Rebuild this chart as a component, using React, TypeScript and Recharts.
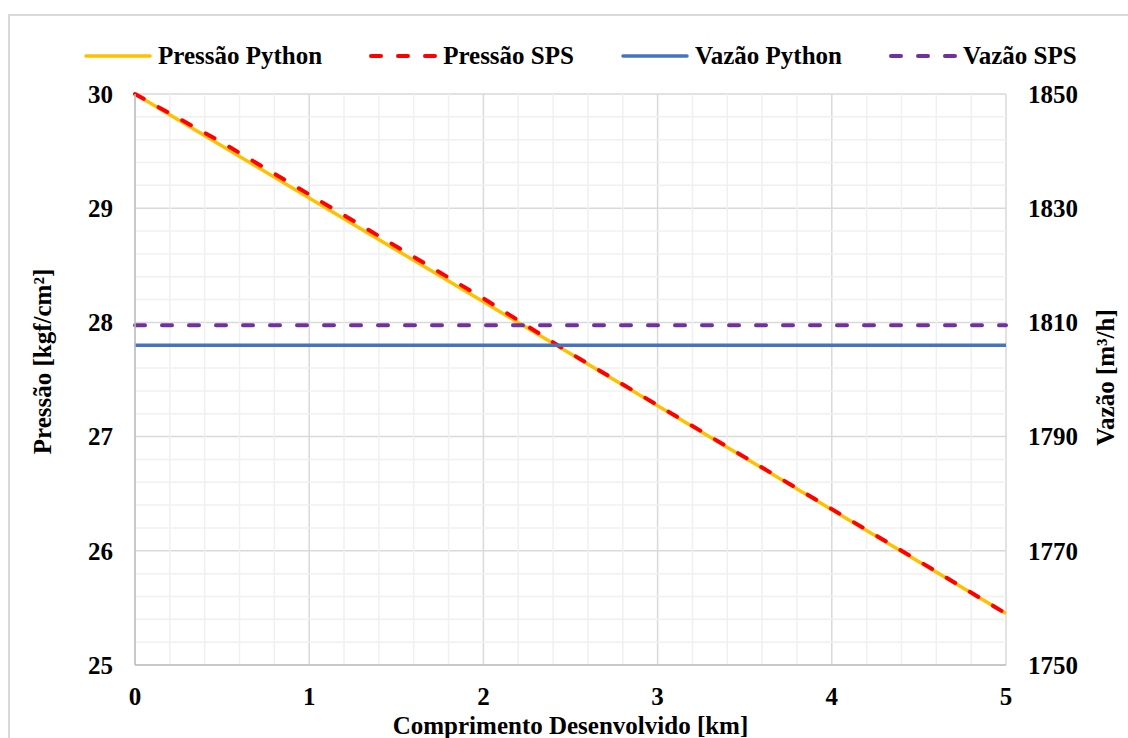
import {
  CartesianGrid,
  ComposedChart,
  Label,
  Line,
  ReferenceLine,
  XAxis,
  YAxis,
} from "recharts";

const distanceKm = [0, 0.5, 1, 1.5, 2, 2.5, 3, 3.5, 4, 4.5, 5];
const pressurePython = [30, 29.545, 29.09, 28.635, 28.18, 27.725, 27.27, 26.815, 26.36, 25.905, 25.45];
const pressureSps = [30, 29.575, 29.12, 28.665, 28.21, 27.73, 27.275, 26.82, 26.365, 25.91, 25.45];
const flowPython = [1806, 1806, 1806, 1806, 1806, 1806, 1806, 1806, 1806, 1806, 1806];
const flowSps = [1809.5, 1809.5, 1809.5, 1809.5, 1809.5, 1809.5, 1809.5, 1809.5, 1809.5, 1809.5, 1809.5];

const xTicks = [0, 1, 2, 3, 4, 5];
const pressureTicks = [25, 26, 27, 28, 29, 30];
const flowTicks = [1750, 1770, 1790, 1810, 1830, 1850];
const xMinorTicks = [0.2, 0.4, 0.6, 0.8, 1.2, 1.4, 1.6, 1.8, 2.2, 2.4, 2.6, 2.8, 3.2, 3.4, 3.6, 3.8, 4.2, 4.4, 4.6, 4.8];
const yMinorTicks = [25.2, 25.4, 25.6, 25.8, 26.2, 26.4, 26.6, 26.8, 27.2, 27.4, 27.6, 27.8, 28.2, 28.4, 28.6, 28.8, 29.2, 29.4, 29.6, 29.8];

const seriesNames = ["Pressão Python", "Pressão SPS", "Vazão Python", "Vazão SPS"];
const seriesColors = ["#FFC000", "#FF0000", "#4472C4", "#7030A0"];
const seriesDashed = [false, true, false, true];

const data = distanceKm.map((x, i) => ({
  x,
  pPython: pressurePython[i],
  pSps: pressureSps[i],
  qPython: flowPython[i],
  qSps: flowSps[i],
}));

const FONT = '"Liberation Serif", "Times New Roman", serif';
const tickStyle = { fontFamily: FONT, fontSize: 25, fontWeight: 700, fill: "#000" };

function ChartLegend() {
  return (
    <div
      style={{
        position: "absolute",
        left: 84,
        top: 42,
        display: "flex",
        alignItems: "center",
        gap: 47,
        fontFamily: FONT,
        fontSize: 25,
        fontWeight: 700,
        color: "#000",
        whiteSpace: "nowrap",
      }}
    >
      {seriesNames.map((name, i) => (
        <div key={name} style={{ display: "flex", alignItems: "center", gap: 6 }}>
          <svg width={68} height={10}>
            <line
              x1={2}
              y1={5}
              x2={66}
              y2={5}
              stroke={seriesColors[i]}
              strokeWidth={seriesDashed[i] ? 4 : 3.5}
              strokeDasharray={seriesDashed[i] ? "10 17" : undefined}
              strokeLinecap="round"
            />
          </svg>
          <span>{name}</span>
        </div>
      ))}
    </div>
  );
}

export default function App() {
  return (
    <div
      style={{
        position: "fixed",
        left: 0,
        top: 0,
        width: 1128,
        height: 738,
        overflow: "hidden",
        background: "#fff",
      }}
    >
      <div
        style={{
          position: "absolute",
          left: 8,
          top: 14,
          width: 1300,
          height: 900,
          border: "2px solid #d9d9d9",
        }}
      />
      <ComposedChart
        width={1128}
        height={738}
        data={data}
        margin={{ top: 94, right: 0, bottom: 0, left: 0 }}
        style={{ position: "absolute", left: 0, top: 0 }}
      >
        {xMinorTicks.map((v) => (
          <ReferenceLine key={`xm${v}`} x={v} yAxisId="p" stroke="#f0f0f0" strokeWidth={1.5} />
        ))}
        {yMinorTicks.map((v) => (
          <ReferenceLine key={`ym${v}`} y={v} yAxisId="p" stroke="#f0f0f0" strokeWidth={1.5} />
        ))}
        <CartesianGrid yAxisId="p" stroke="#d9d9d9" strokeWidth={1.5} />
        <XAxis
          dataKey="x"
          type="number"
          domain={[0, 5]}
          ticks={xTicks}
          height={73}
          tickLine={false}
          tickSize={0}
          tickMargin={22}
          axisLine={{ stroke: "#bfbfbf", strokeWidth: 1.5 }}
          tick={tickStyle}
        >
          <Label
            content={({ viewBox }: any) => (
              <text
                x={viewBox.x + viewBox.width / 2}
                y={viewBox.y + 69}
                textAnchor="middle"
                style={tickStyle}
              >
                Comprimento Desenvolvido [km]
              </text>
            )}
          />
        </XAxis>
        <YAxis
          yAxisId="p"
          orientation="left"
          domain={[25, 30]}
          ticks={pressureTicks}
          width={135}
          tickLine={false}
          tickSize={0}
          tickMargin={22}
          axisLine={{ stroke: "#bfbfbf", strokeWidth: 1.5 }}
          tick={tickStyle}
        >
          <Label
            content={({ viewBox }: any) => {
              const cx = viewBox.x + 42;
              const cy = viewBox.y + viewBox.height / 2 - 18;
              return (
                <text
                  x={cx}
                  y={cy}
                  textAnchor="middle"
                  dominantBaseline="central"
                  transform={`rotate(-90, ${cx}, ${cy})`}
                  style={tickStyle}
                >
                  Pressão [kgf/cm²]
                </text>
              );
            }}
          />
        </YAxis>
        <YAxis
          yAxisId="q"
          orientation="right"
          domain={[1750, 1850]}
          ticks={flowTicks}
          width={122}
          tickLine={false}
          tickSize={0}
          tickMargin={22}
          axisLine={false}
          tick={{ ...tickStyle, textAnchor: "start" }}
        >
          <Label
            content={({ viewBox }: any) => {
              const cx = viewBox.x + 99;
              const cy = viewBox.y + viewBox.height / 2 - 2;
              return (
                <text
                  x={cx}
                  y={cy}
                  textAnchor="middle"
                  dominantBaseline="central"
                  transform={`rotate(-90, ${cx}, ${cy})`}
                  style={tickStyle}
                >
                  Vazão [m³/h]
                </text>
              );
            }}
          />
        </YAxis>
        <Line
          yAxisId="p"
          dataKey="pPython"
          name={seriesNames[0]}
          type="linear"
          stroke={seriesColors[0]}
          strokeWidth={3.5}
          dot={false}
          isAnimationActive={false}
        />
        <Line
          yAxisId="p"
          dataKey="pSps"
          name={seriesNames[1]}
          type="linear"
          stroke={seriesColors[1]}
          strokeWidth={4}
          strokeDasharray="10 17"
          strokeLinecap="round"
          dot={false}
          isAnimationActive={false}
        />
        <Line
          yAxisId="q"
          dataKey="qPython"
          name={seriesNames[2]}
          type="linear"
          stroke={seriesColors[2]}
          strokeWidth={3.5}
          dot={false}
          isAnimationActive={false}
        />
        <Line
          yAxisId="q"
          dataKey="qSps"
          name={seriesNames[3]}
          type="linear"
          stroke={seriesColors[3]}
          strokeWidth={4}
          strokeDasharray="10 17"
          strokeLinecap="round"
          dot={false}
          isAnimationActive={false}
        />
      </ComposedChart>
      <ChartLegend />
    </div>
  );
}
